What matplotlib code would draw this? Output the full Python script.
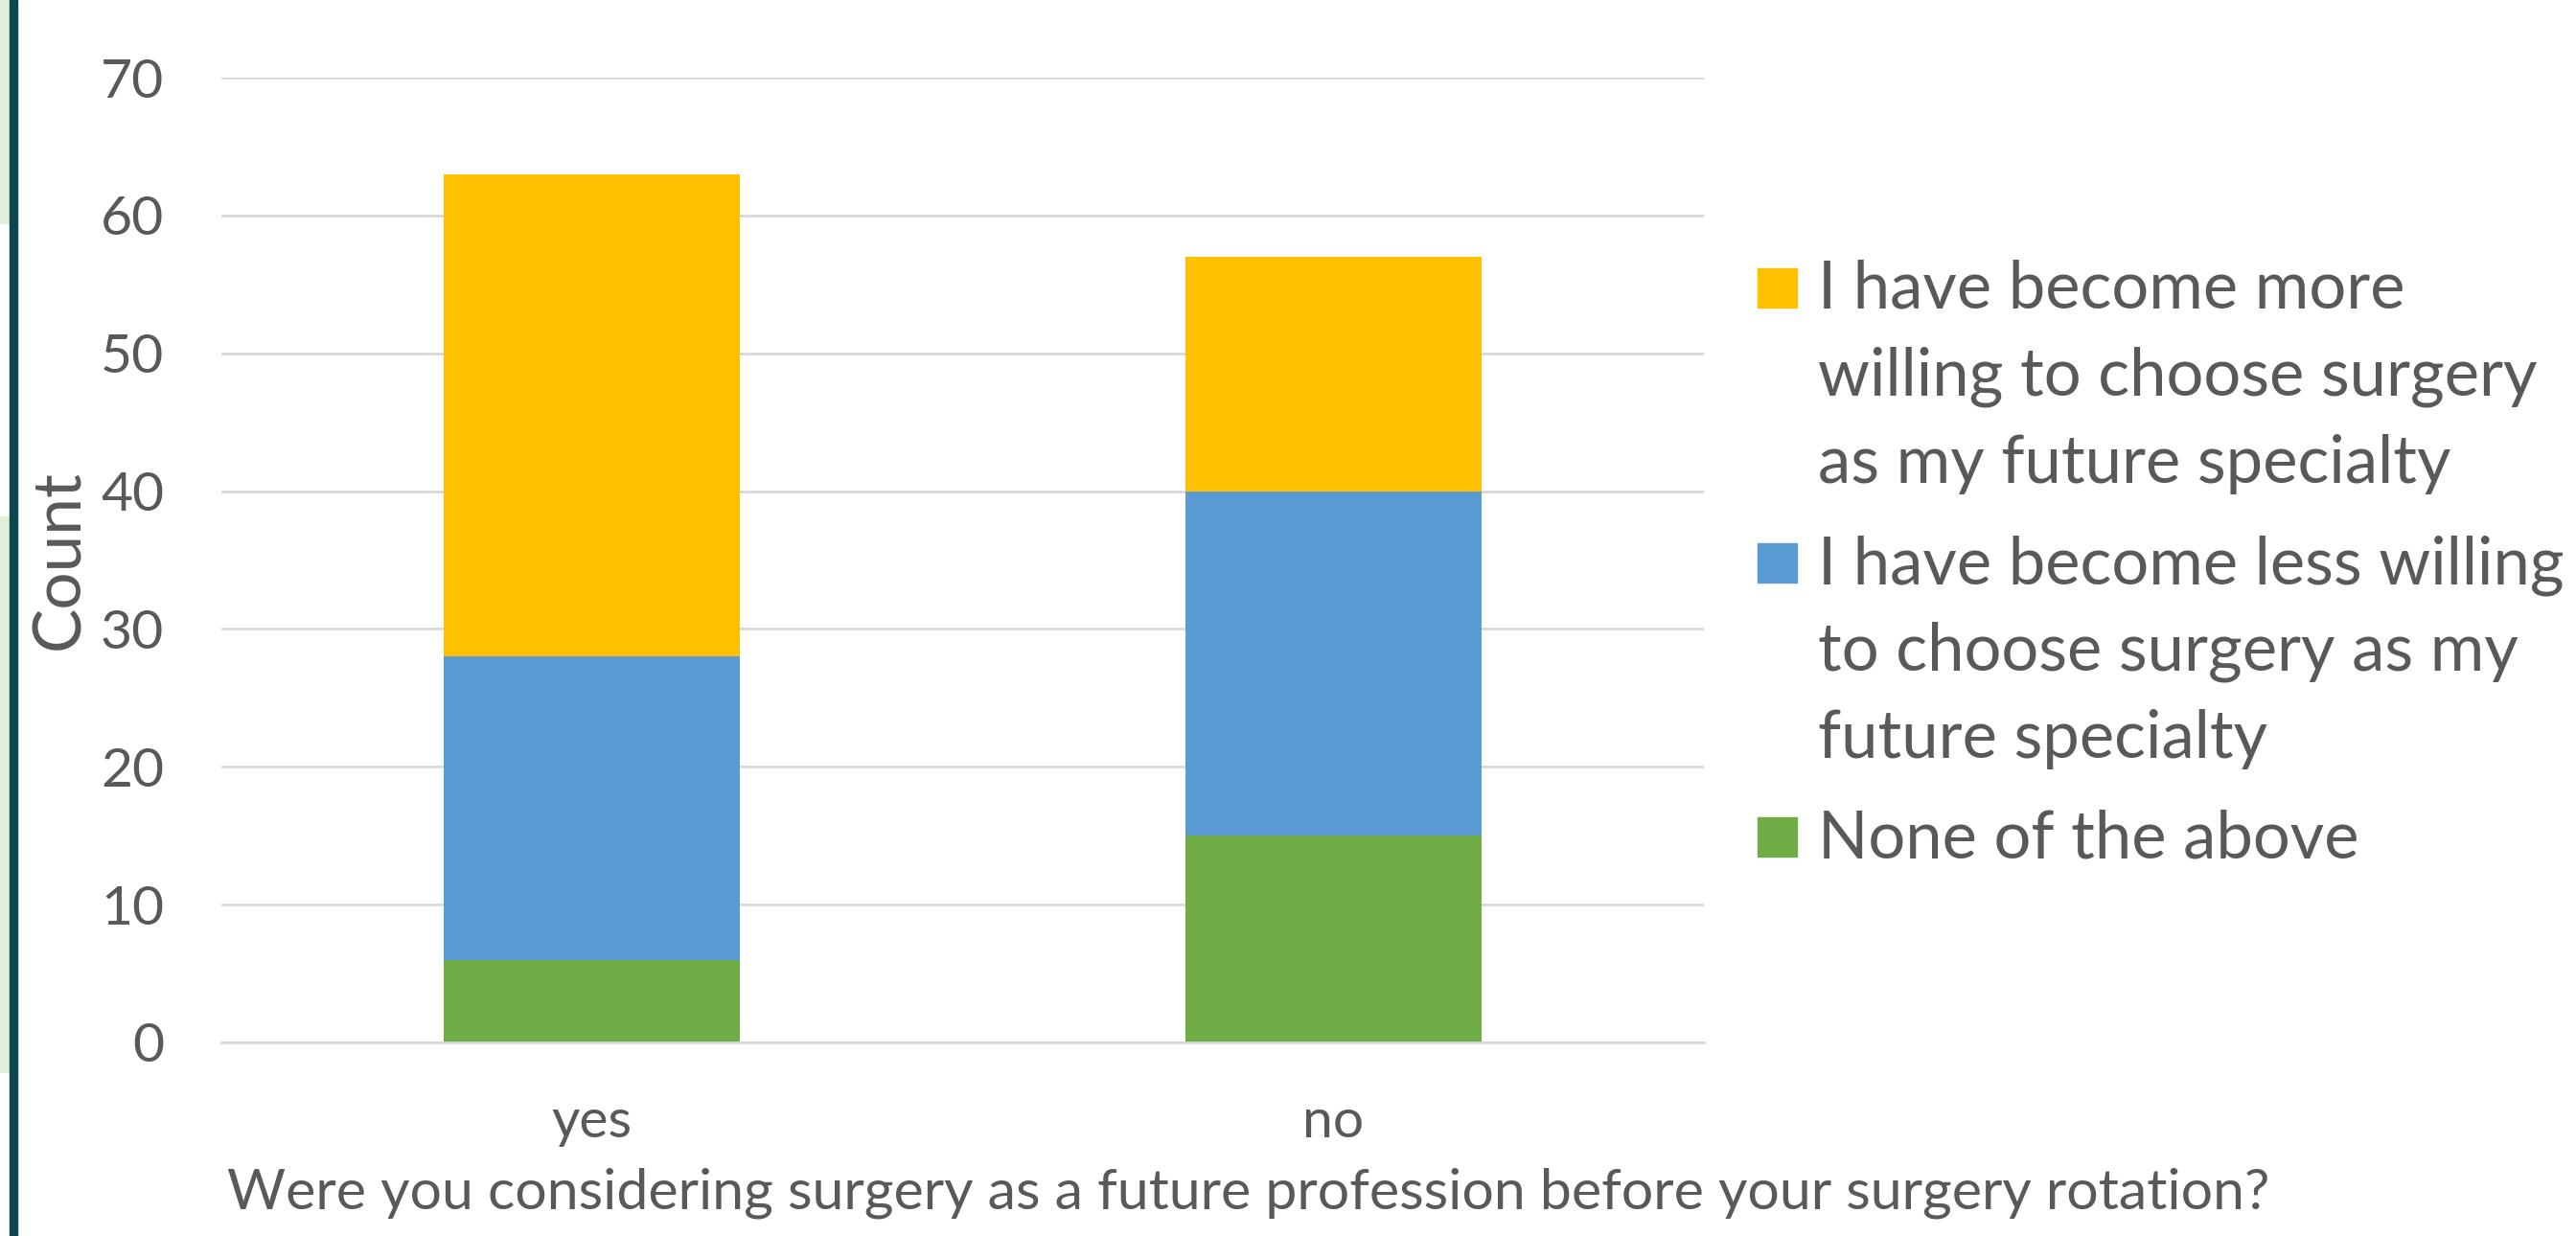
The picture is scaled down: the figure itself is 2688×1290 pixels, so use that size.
"""Stacked bar chart: change in willingness to choose surgery after the rotation."""

import matplotlib

matplotlib.use("Agg")

import matplotlib.pyplot as plt  # noqa: E402
from matplotlib.patches import Rectangle  # noqa: E402

categories = ["yes", "no"]
none_counts = [6, 15]
less_counts = [22, 25]
more_counts = [35, 17]

series_labels = [
    "I have become more\nwilling to choose surgery\nas my future specialty",
    "I have become less willing\nto choose surgery as my\nfuture specialty",
    "None of the above",
]
series_colors = ["#FFC000", "#5B9BD5", "#70AD47"]

y_ticks = [0, 10, 20, 30, 40, 50, 60, 70]
x_title = "Were you considering surgery as a future profession before your surgery rotation?"
y_title = "Count"

TEXT = "#595959"
GRID = "#D9D9D9"
W, H = 2688, 1290

plt.rcParams["font.family"] = ["Lato", "DejaVu Sans"]

fig = plt.figure(figsize=(W / 100, H / 100), dpi=100)
ax = fig.add_axes([231 / W, 1 - 1088 / H, (1778 - 231) / W, (1088 - 81) / H])

x = list(range(len(categories)))
bottom_less = none_counts
bottom_more = [a + b for a, b in zip(none_counts, less_counts)]
ax.bar(x, none_counts, width=0.4, color=series_colors[2], zorder=2)
ax.bar(x, less_counts, width=0.4, bottom=bottom_less, color=series_colors[1], zorder=2)
ax.bar(x, more_counts, width=0.4, bottom=bottom_more, color=series_colors[0], zorder=2)

ax.set_xlim(-0.5, len(categories) - 0.5)
ax.set_ylim(0, 70)
ax.set_yticks(y_ticks)
ax.set_xticks(x)
ax.set_xticklabels(categories)
ax.yaxis.grid(True, color=GRID, linewidth=2, zorder=0)
ax.set_axisbelow(True)
for side in ("top", "right", "left"):
    ax.spines[side].set_visible(False)
ax.spines["bottom"].set_color(GRID)
ax.spines["bottom"].set_linewidth(2)
ax.tick_params(axis="y", length=0, pad=43, labelsize=41, labelcolor=TEXT)
ax.tick_params(axis="x", length=0, pad=42, labelsize=41, labelcolor=TEXT)

# the title is centred under plot + legend, not under the plot alone
ax.set_xlabel(x_title, fontsize=42.5, color=TEXT, labelpad=15, x=0.693)
ax.set_ylabel(y_title, fontsize=50, color=TEXT, labelpad=8)

# legend drawn by hand so the swatch sits on the first line of each entry
entry_baselines = [322, 609, 895]
line_step = 91
for label, color, base in zip(series_labels, series_colors, entry_baselines):
    fig.patches.append(Rectangle((1834 / W, 1 - (base - 1) / H), 41 / W, 41 / H,
                                 transform=fig.transFigure, color=color))
    for i, line in enumerate(label.split("\n")):
        fig.text(1897 / W, 1 - (base + i * line_step) / H, line, fontsize=49.5,
                 color=TEXT, va="baseline", ha="left")

# slide decoration on the left edge
fig.patches.append(Rectangle((0, 1 - 233 / H), 10 / W, 233 / H,
                             transform=fig.transFigure, color="#E2EFDA"))
fig.patches.append(Rectangle((0, 1 - 1119 / H), 10 / W, (1119 - 539) / H,
                             transform=fig.transFigure, color="#E2EFDA"))
fig.patches.append(Rectangle((10 / W, 0), 8 / W, 1,
                             transform=fig.transFigure, color="#0E4650"))

fig.savefig("out.png", dpi=100)
